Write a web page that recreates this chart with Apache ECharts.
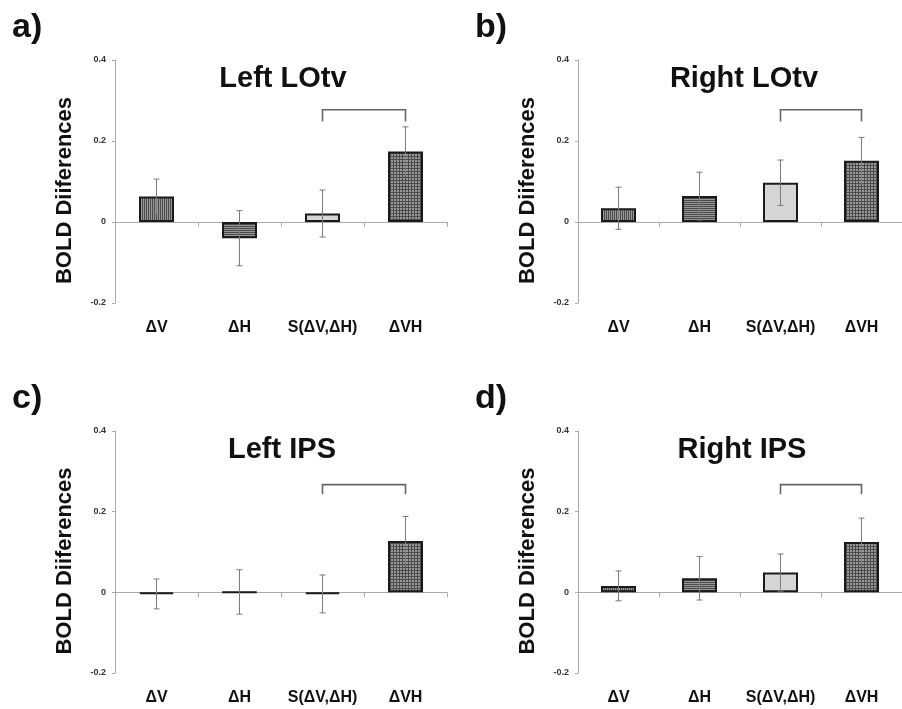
<!DOCTYPE html>
<html>
<head>
<meta charset="utf-8">
<script src="https://cdn.jsdelivr.net/npm/echarts@6/dist/echarts.min.js"></script>
<style>html,body{margin:0;padding:0;background:#fff;}#c{width:902px;height:709px;}</style>
</head>
<body>
<div id="c"></div>
<script>
const categories = ['ΔV', 'ΔH', 'S(ΔV,ΔH)', 'ΔVH'];
const panelTitles = ['Left LOtv', 'Right LOtv', 'Left IPS', 'Right IPS'];
const panelLetters = ['a)', 'b)', 'c)', 'd)'];
const yTicks = [-0.2, 0, 0.2, 0.4];
const yName = 'BOLD Diiferences';

const leftLOtvMean = [0.063, -0.040, 0.021, 0.174];
const leftLOtvErr = [0.043, 0.068, 0.058, 0.061];
const rightLOtvMean = [0.034, 0.064, 0.097, 0.151];
const rightLOtvErr = [0.052, 0.059, 0.056, 0.058];
const leftIPSMean = [-0.004, 0.001, -0.004, 0.127];
const leftIPSErr = [0.037, 0.055, 0.047, 0.061];
const rightIPSMean = [0.016, 0.035, 0.049, 0.125];
const rightIPSErr = [0.037, 0.054, 0.046, 0.059];

// significance bracket: [from category, to category, top value, leg-end value]
const bracketLeftLOtv = [2, 3, 0.277, 0.248];
const bracketRightLOtv = [2, 3, 0.277, 0.248];
const bracketLeftIPS = [2, 3, 0.267, 0.243];
const bracketRightIPS = [2, 3, 0.267, 0.243];

const means = [leftLOtvMean, rightLOtvMean, leftIPSMean, rightIPSMean];
const errs = [leftLOtvErr, rightLOtvErr, leftIPSErr, rightIPSErr];
const brackets = [bracketLeftLOtv, bracketRightLOtv, bracketLeftIPS, bracketRightIPS];

function makePattern(type) {
  const c = document.createElement('canvas');
  const s = type === 'grid' ? 3 : 2;
  c.width = s; c.height = s;
  const g = c.getContext('2d');
  g.fillStyle = '#999999';
  g.fillRect(0, 0, s, s);
  g.fillStyle = '#4a4a4a';
  if (type === 'v') g.fillRect(0, 0, 1, s);
  if (type === 'h') g.fillRect(0, 0, s, 1);
  if (type === 'grid') { g.fillRect(0, 0, 1, s); g.fillRect(0, 0, s, 1); }
  return c;
}
const fills = [
  { image: makePattern('v'), repeat: 'repeat' },
  { image: makePattern('h'), repeat: 'repeat' },
  '#d6d6d6',
  { image: makePattern('grid'), repeat: 'repeat' }
];

const FONT = '"Liberation Sans", Arial, Helvetica, sans-serif';
const grids = [
  { left: 115, top: 60, width: 332, height: 243 },
  { left: 578, top: 60, width: 332, height: 243 },
  { left: 115, top: 431, width: 332, height: 242 },
  { left: 578, top: 431, width: 332, height: 242 }
];

const xAxis = [], yAxis = [], series = [], graphic = [];
grids.forEach((g, i) => {
  xAxis.push({
    type: 'category', gridIndex: i, data: categories,
    axisLine: { onZero: true, lineStyle: { color: '#aaaaaa', width: 1 } },
    axisTick: { show: true, length: 5, interval: 0, lineStyle: { color: '#aaaaaa' } },
    axisLabel: { show: false }
  });
  xAxis.push({
    type: 'category', gridIndex: i, data: categories, position: 'bottom',
    axisLine: { show: false, onZero: false }, axisTick: { show: false },
    axisLabel: { show: true, interval: 0, margin: 17, fontSize: 16, fontWeight: 'bold', color: '#111', fontFamily: FONT }
  });
  yAxis.push({
    type: 'value', gridIndex: i, min: -0.2, max: 0.4, interval: 0.2,
    axisLine: { show: true, lineStyle: { color: '#aaaaaa', width: 1 } },
    axisTick: { show: true, length: 3, lineStyle: { color: '#aaaaaa' } },
    splitLine: { show: false },
    axisLabel: {
      margin: 9, fontSize: 9, fontWeight: 'bold', color: '#333', fontFamily: FONT,
      formatter: v => (Math.abs(v) < 1e-9 ? '0' : v.toFixed(1))
    }
  });
  series.push({
    type: 'bar', xAxisIndex: 2 * i, yAxisIndex: i, barWidth: 35,
    data: means[i].map((v, k) => ({
      value: v,
      itemStyle: { color: fills[k], borderColor: '#1a1a1a', borderWidth: 2 }
    })),
    z: 2
  });
  series.push({
    type: 'custom', xAxisIndex: 2 * i, yAxisIndex: i, z: 5,
    data: means[i].map((v, k) => [k, v - errs[i][k], v + errs[i][k]]),
    renderItem: (params, api) => {
      const lo = api.coord([api.value(0), api.value(1)]);
      const hi = api.coord([api.value(0), api.value(2)]);
      const st = { stroke: '#7a7a7a', lineWidth: 1 };
      return {
        type: 'group', children: [
          { type: 'line', shape: { x1: lo[0], y1: lo[1], x2: hi[0], y2: hi[1] }, style: st },
          { type: 'line', shape: { x1: lo[0] - 3, y1: lo[1], x2: lo[0] + 3, y2: lo[1] }, style: st },
          { type: 'line', shape: { x1: hi[0] - 3, y1: hi[1], x2: hi[0] + 3, y2: hi[1] }, style: st }
        ]
      };
    }
  });
  series.push({
    type: 'custom', xAxisIndex: 2 * i, yAxisIndex: i, z: 5,
    data: [brackets[i]],
    renderItem: (params, api) => {
      const a = api.coord([api.value(0), api.value(3)]);
      const b = api.coord([api.value(0), api.value(2)]);
      const c = api.coord([api.value(1), api.value(2)]);
      const d = api.coord([api.value(1), api.value(3)]);
      return {
        type: 'polyline',
        shape: { points: [a, b, c, d] },
        style: { stroke: '#666', lineWidth: 1.6, fill: null }
      };
    }
  });
  const titleY = g.top + 19;
  graphic.push({
    type: 'text', x: [283, 744, 282, 742][i], y: titleY,
    style: { text: panelTitles[i], font: 'bold 29px ' + FONT, fill: '#111', textAlign: 'center', textVerticalAlign: 'middle' }
  });
  graphic.push({
    type: 'text', x: g.left - 103, y: g.top - 32,
    style: { text: panelLetters[i], font: 'bold 34px ' + FONT, fill: '#111', textAlign: 'left', textVerticalAlign: 'middle' }
  });
  graphic.push({
    type: 'text', x: g.left - 50, y: g.top + g.height / 2 + 9, rotation: Math.PI / 2,
    style: { text: yName, font: 'bold 22px ' + FONT, fill: '#111', textAlign: 'center', textVerticalAlign: 'middle' }
  });
});

const chart = echarts.init(document.getElementById('c'), null, { renderer: 'canvas' });
chart.setOption({
  animation: false,
  backgroundColor: '#ffffff',
  grid: grids,
  xAxis: xAxis,
  yAxis: yAxis,
  series: series,
  graphic: graphic
});
</script>
</body>
</html>
